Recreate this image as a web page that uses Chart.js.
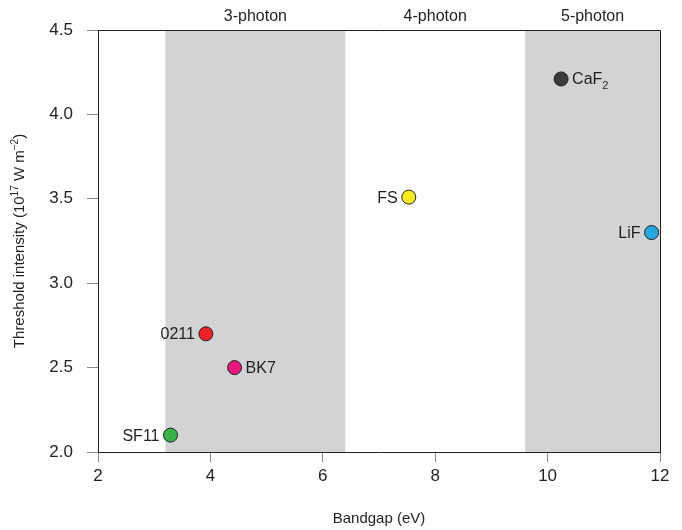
<!DOCTYPE html>
<html>
<head>
<meta charset="utf-8">
<script src="https://cdn.jsdelivr.net/npm/chart.js@4.4.1/dist/chart.umd.min.js"></script>
<style>
  body { margin: 0; background: #fff; }
  #chart { display: block; }
</style>
</head>
<body>
<canvas id="chart" width="682" height="530"></canvas>
<script>
const FONT = '"Liberation Sans Narrow", "Liberation Sans", Arial, sans-serif';

// data
const materials = ["CaF2", "FS", "LiF", "0211", "BK7", "SF11"];
const bandgap   = [10.24, 7.53, 11.85, 3.92, 4.43, 3.29];
const threshold = [4.21, 3.51, 3.30, 2.70, 2.50, 2.10];
const dotColors = ["#3c3c3c", "#f7ec23", "#2aa6df", "#ec2227", "#e4197c", "#3bb14a"];
const labelSide = ["right", "left", "left", "left", "right", "left"];

const bandNames = ["3-photon", "4-photon", "5-photon"];
const bandStart = [3.2, 6.4, 9.6];
const bandEnd   = [6.4, 9.6, 12];
const bandShaded = [true, false, true];

const xTicks = [2, 4, 6, 8, 10, 12];
const yTicks = [2.0, 2.5, 3.0, 3.5, 4.0, 4.5];

const bandPlugin = {
  id: "bands",
  beforeDraw(chart) {
    const { ctx, chartArea, scales } = chart;
    ctx.save();
    ctx.fillStyle = "#d1d3d4";
    bandStart.forEach((s, i) => {
      if (!bandShaded[i]) return;
      const x1 = scales.x.getPixelForValue(s);
      const x2 = scales.x.getPixelForValue(bandEnd[i]);
      ctx.fillRect(x1, chartArea.top, x2 - x1, chartArea.bottom - chartArea.top);
    });
    ctx.fillStyle = "#231f20";
    ctx.font = "16px " + FONT;
    ctx.textAlign = "center";
    ctx.textBaseline = "middle";
    bandNames.forEach((n, i) => {
      const xc = scales.x.getPixelForValue((bandStart[i] + bandEnd[i]) / 2);
      ctx.fillText(n, xc, 17);
    });
    ctx.restore();
  },
  afterDraw(chart) {
    const { ctx, chartArea } = chart;
    ctx.save();
    ctx.strokeStyle = "#231f20";
    ctx.lineWidth = 1;
    ctx.beginPath();
    ctx.moveTo(chartArea.left, chartArea.top + 0.5);
    ctx.lineTo(chartArea.right + 0.5, chartArea.top + 0.5);
    ctx.lineTo(chartArea.right + 0.5, chartArea.bottom);
    ctx.stroke();

    // y title with superscripts
    const parts = [
      ["Threshold intensity (10", 0],
      ["17", 1],
      [" W m", 0],
      ["\u22122", 1],
      [")", 0]
    ];
    const big = "15px " + FONT, small = "10px " + FONT;
    let total = 0;
    parts.forEach(p => { ctx.font = p[1] ? small : big; total += ctx.measureText(p[0]).width; });
    ctx.translate(20, (chartArea.top + chartArea.bottom) / 2);
    ctx.rotate(-Math.PI / 2);
    ctx.fillStyle = "#231f20";
    ctx.textBaseline = "middle";
    ctx.textAlign = "left";
    let x = -total / 2;
    parts.forEach(p => {
      ctx.font = p[1] ? small : big;
      ctx.fillText(p[0], x, p[1] ? -5 : 0);
      x += ctx.measureText(p[0]).width;
    });
    ctx.restore();
  }
};

const labelPlugin = {
  id: "pointLabels",
  afterDatasetsDraw(chart) {
    const { ctx } = chart;
    const meta = chart.getDatasetMeta(0);
    ctx.save();
    ctx.fillStyle = "#231f20";
    ctx.textBaseline = "middle";
    meta.data.forEach((pt, i) => {
      const name = materials[i];
      const big = "16px " + FONT, small = "11px " + FONT;
      let main = name, sub = "";
      if (name === "CaF2") { main = "CaF"; sub = "2"; }
      ctx.font = big;
      const w1 = ctx.measureText(main).width;
      ctx.font = small;
      const w2 = sub ? ctx.measureText(sub).width : 0;
      const gap = 11;
      let x = labelSide[i] === "right" ? pt.x + gap : pt.x - gap - w1 - w2;
      ctx.textAlign = "left";
      ctx.font = big;
      ctx.fillText(main, x, pt.y + 1);
      if (sub) {
        ctx.font = small;
        ctx.fillText(sub, x + w1, pt.y + 7);
      }
    });
    ctx.restore();
  }
};

new Chart(document.getElementById("chart"), {
  type: "scatter",
  data: {
    datasets: [{
      data: bandgap.map((v, i) => ({ x: v, y: threshold[i] })),
      backgroundColor: dotColors,
      borderColor: "#231f20",
      borderWidth: 1,
      pointRadius: 7,
      pointHoverRadius: 7
    }]
  },
  options: {
    responsive: false,
    animation: false,
    devicePixelRatio: 1,
    layout: { padding: { top: 30, right: 22, left: 0, bottom: 0 } },
    plugins: { legend: { display: false }, tooltip: { enabled: false } },
    scales: {
      x: {
        type: "linear",
        min: 2, max: 12,
        afterBuildTicks: s => { s.ticks = xTicks.map(v => ({ value: v })); },
        afterFit: s => { s.height = 78; },
        ticks: { font: { size: 17, family: FONT }, color: "#231f20", padding: 4, maxRotation: 0 },
        grid: { drawOnChartArea: false, tickLength: 10, tickColor: "#8a8a8a" },
        border: { color: "#231f20" },
        title: { display: true, text: "Bandgap (eV)", font: { size: 15, family: FONT }, color: "#231f20", padding: { top: 0, bottom: 2 } }
      },
      y: {
        min: 2, max: 4.5,
        afterBuildTicks: s => { s.ticks = yTicks.map(v => ({ value: v })); },
        afterFit: s => { s.width = 98; },
        ticks: { font: { size: 17, family: FONT }, color: "#231f20", padding: 14, callback: v => v.toFixed(1) },
        grid: { drawOnChartArea: false, tickLength: 11, tickColor: "#8a8a8a" },
        border: { color: "#231f20" }
      }
    }
  },
  plugins: [bandPlugin, labelPlugin]
});
</script>
</body>
</html>
